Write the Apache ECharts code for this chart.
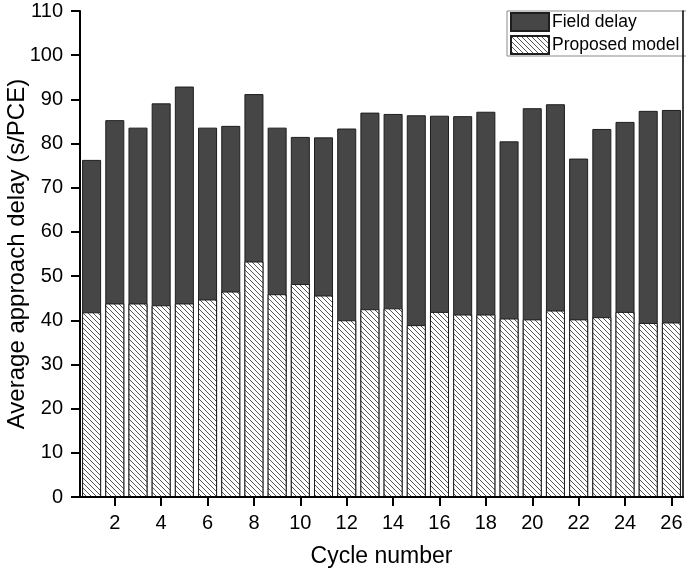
<!DOCTYPE html>
<html>
<head>
<meta charset="utf-8">
<script src="https://cdn.jsdelivr.net/npm/echarts@6/dist/echarts.min.js"></script>
<style>
  html, body { margin: 0; padding: 0; background: #fff; }
  #chart { width: 686px; height: 573px; }
</style>
</head>
<body>
<div id="chart"></div>
<script>
// ---- data ----
const cycles = ['1','2','3','4','5','6','7','8','9','10','11','12','13','14','15','16','17','18','19','20','21','22','23','24','25','26'];
const fieldDelay = [76.3, 85.3, 83.6, 89.1, 92.9, 83.6, 84.0, 91.2, 83.6, 81.5, 81.4, 83.4, 87.0, 86.7, 86.4, 86.3, 86.2, 87.2, 80.5, 88.0, 88.9, 76.6, 83.3, 84.9, 87.4, 87.6];
const proposedModel = [41.8, 43.8, 43.8, 43.4, 43.8, 44.7, 46.5, 53.3, 45.9, 48.2, 45.6, 40.0, 42.5, 42.7, 38.9, 41.9, 41.3, 41.3, 40.4, 40.2, 42.2, 40.2, 40.7, 41.9, 39.4, 39.5];
const yTicks = { min: 0, max: 110, interval: 10 };

// ---- hatch pattern ----
function hatch() {
  const s = 5;
  const c = document.createElement('canvas');
  c.width = s; c.height = s;
  const ctx = c.getContext('2d');
  ctx.fillStyle = '#ffffff';
  ctx.fillRect(0, 0, s, s);
  ctx.strokeStyle = '#444444';
  ctx.lineWidth = 0.9;
  ctx.beginPath();
  ctx.moveTo(-1, -1); ctx.lineTo(s + 1, s + 1);
  ctx.moveTo(-1, s - 1); ctx.lineTo(1, s + 1);
  ctx.moveTo(s - 1, -1); ctx.lineTo(s + 1, 1);
  ctx.stroke();
  return c;
}

const FONT = 'Liberation Sans, Arial, Helvetica, sans-serif';
const chart = echarts.init(document.getElementById('chart'), null, { renderer: 'canvas' });
const oddIdx = (i) => i % 2 === 1;

chart.setOption({
  animation: false,
  backgroundColor: '#ffffff',
  textStyle: { fontFamily: FONT, color: '#000' },
  grid: {
    left: 80, right: 3, top: 11, bottom: 76,
    containLabel: false,
    outerBoundsMode: 'none',
    show: false
  },
  legend: {
    data: ['Field delay', 'Proposed model'],
    orient: 'vertical',
    left: 507, top: 11,
    itemWidth: 38, itemHeight: 18, itemGap: 3,
    padding: [1, 8, 1, 3],
    borderColor: '#8a8a8a', borderWidth: 1,
    backgroundColor: '#ffffff',
    icon: 'rect',
    textStyle: { fontSize: 17.5, fontFamily: FONT, color: '#000', padding: [0, 0, 0, -2] },
    selectedMode: false,
    z: 5
  },
  xAxis: [{
    type: 'category',
    data: cycles,
    boundaryGap: true,
    name: 'Cycle number',
    nameLocation: 'middle',
    nameGap: 48,
    nameMoveOverlap: false,
    nameTextStyle: { fontSize: 23, fontFamily: FONT, color: '#000' },
    axisLine: { show: true, lineStyle: { color: '#000', width: 2 } },
    axisTick: { show: true, alignWithLabel: true, interval: oddIdx, length: 9, lineStyle: { color: '#000', width: 2 } },
    axisLabel: { interval: oddIdx, fontSize: 20, margin: 16, color: '#000', fontFamily: FONT },
    splitLine: { show: false },
    z: 10
  }, {
    type: 'category',
    data: cycles,
    position: 'top',
    axisLine: { show: true, lineStyle: { color: '#000', width: 1.5 } },
    axisTick: { show: false },
    axisLabel: { show: false },
    splitLine: { show: false },
    z: 10
  }],
  yAxis: [{
    type: 'value',
    min: yTicks.min, max: yTicks.max, interval: yTicks.interval,
    name: 'Average approach delay (s/PCE)',
    nameLocation: 'middle',
    nameGap: 51,
    nameRotate: 90,
    nameMoveOverlap: false,
    nameTextStyle: { fontSize: 24, fontFamily: FONT, color: '#000' },
    axisLine: { show: true, lineStyle: { color: '#000', width: 2 } },
    axisTick: { show: true, length: 9, lineStyle: { color: '#000', width: 2 } },
    axisLabel: { fontSize: 20, margin: 17, color: '#000', fontFamily: FONT },
    splitLine: { show: false },
    z: 10
  }, {
    type: 'value',
    min: yTicks.min, max: yTicks.max, interval: yTicks.interval,
    position: 'right',
    axisLine: { show: true, lineStyle: { color: '#000', width: 1.5 } },
    axisTick: { show: false },
    axisLabel: { show: false },
    splitLine: { show: false },
    z: 10
  }],
  series: [{
    name: 'Field delay',
    type: 'bar',
    data: fieldDelay,
    barCategoryGap: '18%',
    barGap: '-100%',
    itemStyle: { color: '#464646', borderColor: '#1e1e1e', borderWidth: 1 },
    z: 2
  }, {
    name: 'Proposed model',
    type: 'bar',
    data: proposedModel,
    barCategoryGap: '18%',
    barGap: '-100%',
    itemStyle: { color: { image: hatch(), repeat: 'repeat' }, borderColor: '#1e1e1e', borderWidth: 1 },
    z: 3
  }]
});
</script>
</body>
</html>
